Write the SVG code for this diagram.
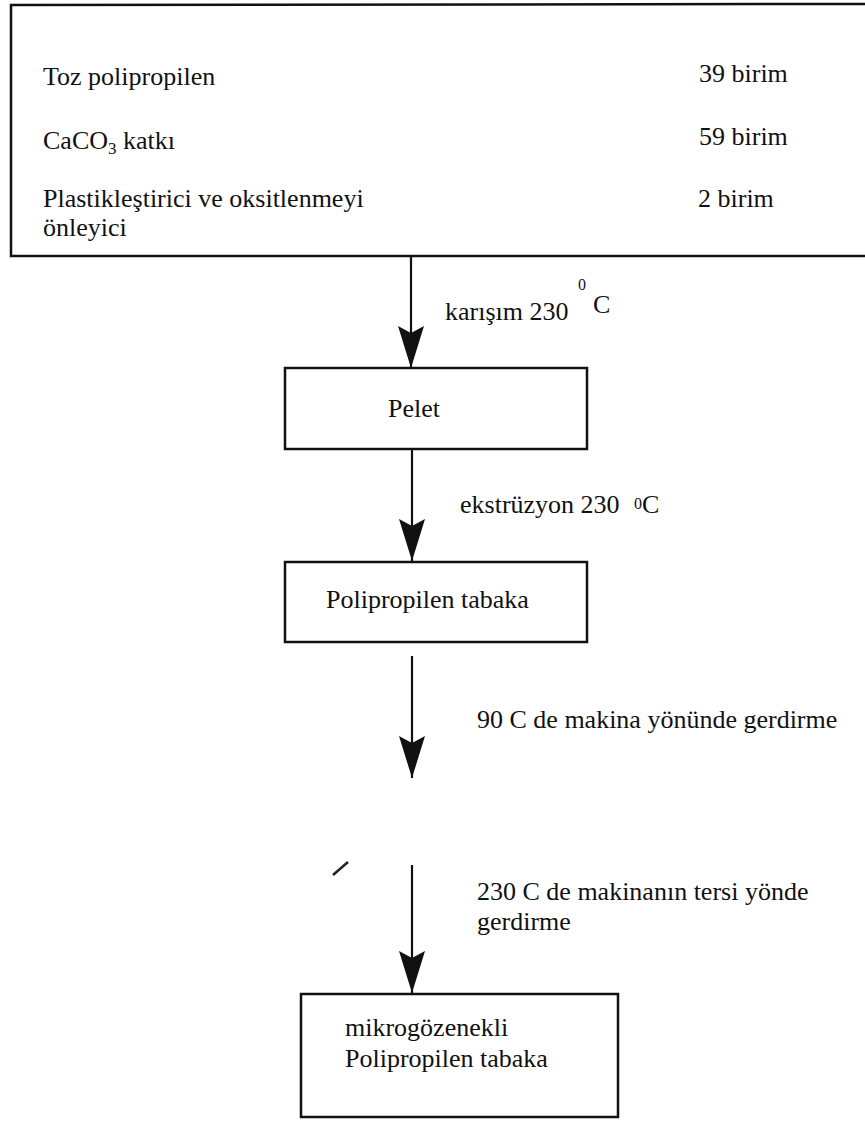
<svg xmlns="http://www.w3.org/2000/svg" width="865" height="1122" viewBox="0 0 865 1122" font-family="'Liberation Serif', 'DejaVu Serif', 'Times New Roman', serif">
<style>
text{font-family:'Liberation Serif','DejaVu Serif','Times New Roman',serif;font-size:26px;fill:#111}
.box{fill:none;stroke:#111;stroke-width:2.5}
.conn{stroke:#111;stroke-width:2.2;fill:none}
.sup{font-size:16px}
</style>
<defs>
<marker id="ah" viewBox="0 0 42 26" refX="42" refY="13" markerWidth="42" markerHeight="26" markerUnits="userSpaceOnUse" orient="auto">
<path d="M0,0 L42,13 L0,26 L7,13 Z" fill="#111"/>
</marker>
</defs>
<rect width="865" height="1122" fill="#fff"/>
<g id="n-ingredients">
<path class="box" d="M868,4 L11,5 L11,256 L868,256" stroke-width="3"/>
<text x="43" y="85">Toz polipropilen</text>
<text x="43" y="149">CaCO<tspan font-size="17" dy="5">3</tspan><tspan dy="-5"> katkı</tspan></text>
<text x="43" y="207">Plastikleştirici ve oksitlenmeyi</text>
<text x="43" y="236">önleyici</text>
<text x="699" y="82">39 birim</text>
<text x="699" y="145">59 birim</text>
<text x="698" y="207">2 birim</text>
</g>
<g id="n-pelet">
<rect class="box" x="285" y="368" width="302" height="81"/>
<text x="388" y="417">Pelet</text>
</g>
<g id="n-tabaka">
<rect class="box" x="285" y="562" width="302" height="80"/>
<text x="326" y="608">Polipropilen tabaka</text>
</g>
<g id="n-mikro">
<rect class="box" x="301" y="994" width="317" height="123"/>
<text x="345" y="1036">mikrogözenekli</text>
<text x="345" y="1067">Polipropilen tabaka</text>
</g>
<g id="connectors">
<line class="conn" x1="411" y1="256" x2="411" y2="368" marker-end="url(#ah)"/>
<line class="conn" x1="412" y1="449" x2="412" y2="561" marker-end="url(#ah)"/>
<line class="conn" x1="412" y1="656" x2="412" y2="778" marker-end="url(#ah)"/>
<line class="conn" x1="412" y1="865" x2="412" y2="993" marker-end="url(#ah)"/>
</g>
<g id="labels">
<text x="445" y="320">karışım 230</text>
<text class="sup" x="578" y="290">0</text>
<text x="593" y="313">C</text>
<text x="460" y="513">ekstrüzyon 230</text>
<text class="sup" x="634" y="509">0</text>
<text x="642" y="513">C</text>
<text x="477" y="728">90 C de makina yönünde gerdirme</text>
<text x="477" y="900">230 C de makinanın tersi yönde</text>
<text x="477" y="930">gerdirme</text>
</g>
<path d="M333,875 L348,862" stroke="#222" stroke-width="2.5"/>
</svg>
